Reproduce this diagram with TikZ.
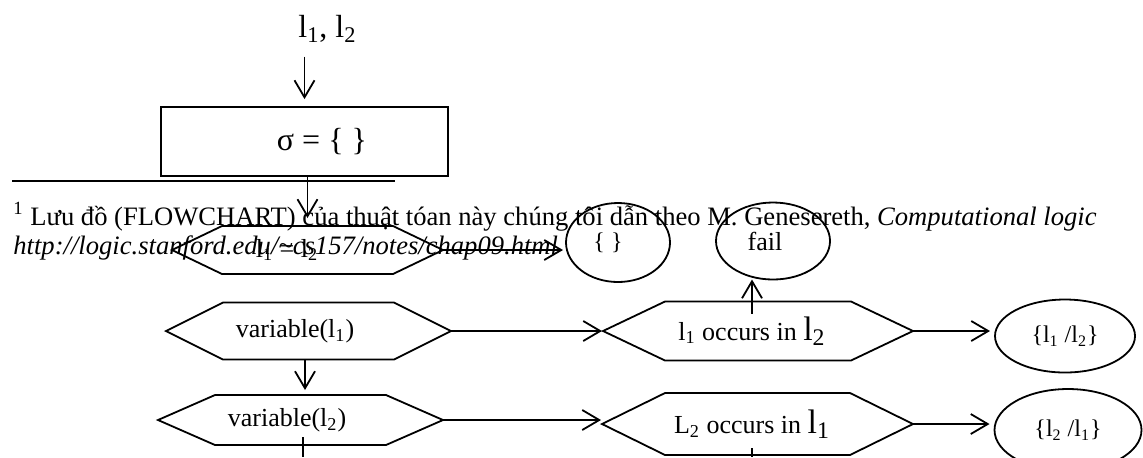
\documentclass[tikz,border=0pt]{standalone}
\usepackage{fontspec}
\setmainfont{Liberation Serif}
\usetikzlibrary{arrows.meta,shapes.geometric}
\newcommand\szbig{\fontsize{16}{19}\selectfont}
\newcommand\szmid{\fontsize{13}{15}\selectfont}
\newcommand\szfn{\fontsize{12}{14}\selectfont}
\newcommand\sznote{\fontsize{13.3}{15.5}\selectfont}
\newcommand\szhuge{\fontsize{17}{20}\selectfont}
\newcommand\hexoutline[2]{\draw[shapeline] (#1.west) -- ([xshift=#2]#1.north west) -- ([xshift=-#2]#1.north east) -- (#1.east) -- ([xshift=-#2]#1.south east) -- ([xshift=#2]#1.south west) -- cycle;}
\begin{document}
\begin{tikzpicture}[x=0.5pt,y=-0.5pt,
  shapeline/.style={line width=0.9pt},
  arr/.style={line width=0.9pt,-{Straight Barb[length=8.5pt,width=10pt]}},
  hexnode/.style={rectangle,inner sep=0pt,outer sep=0pt},
  ovalnode/.style={ellipse,draw,line width=0.9pt,inner sep=0pt,outer sep=0pt},
  txt/.style={anchor=base west,inner sep=0pt}]
\useasboundingbox (0,0) rectangle (1143,457);

% top label and start box
\node[txt] (lab) at (298,37) {\szbig l\textsubscript{1}, l\textsubscript{2}};
\node[draw,shapeline,rectangle,minimum width=143.5pt,minimum height=34.5pt,inner sep=0pt] (box) at (304.5,141.5) {\szbig\hspace*{17.5pt}σ = \{ \}};
\draw[arr,shorten <=7pt,shorten >=3.5pt] (box.north |- lab.south) -- (box.north);

% footnote rule and text
\draw[shapeline] (12,181) -- (395,181);
\node[txt] (fn1) at (13,225) {\sznote\textsuperscript{1} Lưu đồ (FLOWCHART) của thuật tóan này chúng tôi dẫn theo M. Genesereth, \textit{Computational logic}};
\node[txt] (fn2) at (13,254) {\sznote\textit{http://logic.stanford.edu/\textasciitilde cs157/notes/chap09.html}};

% hexagon l1 = l2
\node[hexnode,minimum width=135.5pt,minimum height=24pt] (h1) at (307.5,250) {\szmid l\textsubscript{1} = l\textsubscript{2}\hspace*{20.5pt}};
\hexoutline{h1}{25pt}
\draw[arr,shorten >=4pt] (h1.north |- box.south) -- (h1.north);

% ellipses top
\node[ovalnode,minimum width=52pt,minimum height=39.5pt] (e0) at (618,242.5) {\szfn\{ \}\hspace*{10pt}};
\draw[arr,shorten >=1.5pt] (h1.east) -- (h1.east -| e0.west);
\node[ovalnode,minimum width=57pt,minimum height=38.5pt] (fail) at (773,241) {\szmid fail\hspace*{8pt}};

% variable hexagons
\node[hexnode,minimum width=142.5pt,minimum height=28.5pt] (v1) at (308.5,331) {\szmid variable(l\textsubscript{1})\hspace*{13.5pt}};
\hexoutline{v1}{28.5pt}
\node[hexnode,minimum width=142.5pt,minimum height=25pt] (v2) at (300.5,420) {\szmid variable(l\textsubscript{2})\hspace*{13.5pt}};
\hexoutline{v2}{28.5pt}

% occurs hexagons
\node[hexnode,minimum width=155pt,minimum height=29.5pt] (h2) at (758,331) {\szmid l\textsubscript{1} occurs in {\szhuge l\textsubscript{2}}\hspace*{6pt}};
\hexoutline{h2}{31pt}
\node[hexnode,minimum width=155.5pt,minimum height=31pt] (h3) at (757.5,424) {\szmid L\textsubscript{2} occurs in {\szhuge l\textsubscript{1}}\hspace*{5.5pt}};
\hexoutline{h3}{31.5pt}

% result ellipses
\node[ovalnode,minimum width=70pt,minimum height=36.5pt] (e2) at (1065,336) {\szfn\{l\textsubscript{1} /l\textsubscript{2}\}};
\node[ovalnode,minimum width=73.5pt,minimum height=41pt] (e3) at (1068,430) {\szfn\{l\textsubscript{2} /l\textsubscript{1}\}};

% connectors
\draw[arr,shorten >=0.5pt] (v1.east) -- (h2.west);
\draw[arr,shorten >=2.5pt] ([xshift=-1.75pt]v1.south) -- ([xshift=-1.75pt]v1.south |- v2.north);
\draw[arr,shorten >=0.5pt] (v2.east) -- (v2.east -| h3.west);
\draw[arr,shorten >=2.5pt] (h2.east) -- (h2.east -| e2.west);
\draw[arr,shorten >=2.5pt] (h3.east) -- (h3.east -| e3.west);
\draw[arr] ([xshift=-3pt,yshift=-6pt]h2.north) -- ([xshift=-3pt]h2.north |- fail.south);
\coordinate (v2end) at (303,457);
\draw[shapeline] ([xshift=1.25pt,yshift=4pt]v2.south) -- ([xshift=1.25pt]v2.south |- v2end);
\coordinate (h3end) at (752,457);
\draw[shapeline] ([xshift=-2.75pt,yshift=3.5pt]h3.south) -- ([xshift=-2.75pt]h3.south |- h3end);
\end{tikzpicture}
\end{document}
